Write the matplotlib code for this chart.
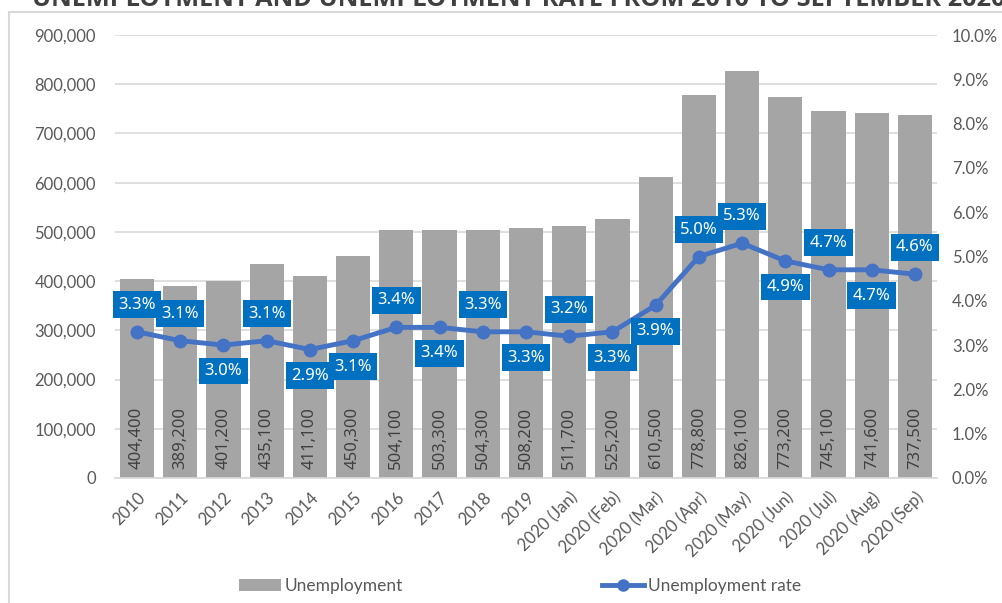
import matplotlib
matplotlib.use("Agg")
import matplotlib.pyplot as plt
from matplotlib.patches import Rectangle
from matplotlib.lines import Line2D
from matplotlib.ticker import FuncFormatter

categories = ["2010", "2011", "2012", "2013", "2014", "2015", "2016", "2017", "2018", "2019",
              "2020 (Jan)", "2020 (Feb)", "2020 (Mar)", "2020 (Apr)", "2020 (May)", "2020 (Jun)",
              "2020 (Jul)", "2020 (Aug)", "2020 (Sep)"]
unemployment = [404400, 389200, 401200, 435100, 411100, 450300, 504100, 503300, 504300, 508200,
                511700, 525200, 610500, 778800, 826100, 773200, 745100, 741600, 737500]
rate = [3.3, 3.1, 3.0, 3.1, 2.9, 3.1, 3.4, 3.4, 3.3, 3.3, 3.2, 3.3, 3.9, 5.0, 5.3, 4.9, 4.7, 4.7, 4.6]
label_above = [True, True, False, True, False, False, True, False, True, False,
               True, False, False, True, True, False, True, False, True]

W, H = 1003, 603
fig = plt.figure(figsize=(W / 100, H / 100), dpi=100)

tick_font = "Lato"
label_font = "Noto Sans"
gray_txt = "#595959"

# outer frame
fig.patches.append(Rectangle((9 / W, -0.05), 1.1, 1 - 12 / H + 0.05, transform=fig.transFigure,
                             fill=False, edgecolor="#D9D9D9", linewidth=1.5))
# title (cut off at top like the reference)
fig.text(0.517, 1 - 6 / H, "UNEMPLOYMENT AND UNEMPLOYMENT RATE FROM 2010 TO SEPTEMBER 2020",
         ha="center", va="baseline", fontsize=18.3, fontweight="bold", color="#404040",
         family="Open Sans")

left, right, top, bottom = 115.4, 936.6, 35, 478
ax = fig.add_axes([left / W, 1 - bottom / H, (right - left) / W, (bottom - top) / H])
x = list(range(len(categories)))
bars = ax.bar(x, unemployment, width=0.79, color="#A5A5A5", zorder=2)
ax.set_xlim(-0.5, len(categories) - 0.5)
ax.set_ylim(0, 900000)
ax.set_yticks(range(0, 900001, 100000))
ax.yaxis.set_major_formatter(FuncFormatter(lambda v, p: f"{int(v):,}"))
ax.grid(axis="y", color="#D9D9D9", linewidth=1.2, zorder=0)
ax.set_axisbelow(True)
for s in ["top", "right", "left"]:
    ax.spines[s].set_visible(False)
ax.spines["bottom"].set_color("#D9D9D9")
ax.spines["bottom"].set_linewidth(1.2)
ax.tick_params(axis="both", length=0, colors=gray_txt)
ax.tick_params(axis="y", pad=14, labelsize=12)
ax.set_xticks(x)
ax.set_xticklabels(categories, rotation=45, ha="right", va="top", rotation_mode="anchor",
                   fontsize=12, color=gray_txt)
ax.tick_params(axis="x", pad=8)
for lab in ax.get_xticklabels() + ax.get_yticklabels():
    lab.set_family(tick_font)

for xi, v in zip(x, unemployment):
    ax.annotate(f"{v:,}", (xi, 0), xytext=(0, 9), textcoords="offset pixels",
                rotation=90, ha="center", va="bottom", fontsize=12, color="#404040",
                family=label_font, zorder=3)

ax2 = ax.twinx()
ax2.set_ylim(0, 10)
ax2.set_yticks(range(0, 11))
ax2.yaxis.set_major_formatter(FuncFormatter(lambda v, p: f"{v:.1f}%"))
for s in ax2.spines.values():
    s.set_visible(False)
ax2.tick_params(axis="y", length=0, pad=11, labelsize=12, colors=gray_txt)
for lab in ax2.get_yticklabels():
    lab.set_family(tick_font)

ax2.plot(x, rate, color="#4472C4", linewidth=3.5, marker="o", markersize=9, zorder=4)
for xi, r, up in zip(x, rate, label_above):
    ax2.annotate(f"{r:.1f}%", (xi, r), xytext=(0, 27 if up else -26), textcoords="offset pixels",
                 ha="center", va="center", fontsize=12, color="white", family=label_font,
                 bbox=dict(boxstyle="square,pad=0.32", facecolor="#0070C0", edgecolor="none"),
                 zorder=5)

handles = [Rectangle((0, 0), 1, 1, facecolor="#A5A5A5"),
           Line2D([0], [0], color="#4472C4", linewidth=3.5, marker="o", markersize=8)]
fig.legend(handles, ["Unemployment", "Unemployment rate"], loc="center",
           bbox_to_anchor=(520 / W, 1 - 586 / H), ncol=2, frameon=False,
           prop={"family": tick_font, "size": 12.5}, labelcolor=gray_txt,
           handlelength=2.4, handletextpad=0.2, columnspacing=11.5)

fig.savefig("out.png", dpi=100)
